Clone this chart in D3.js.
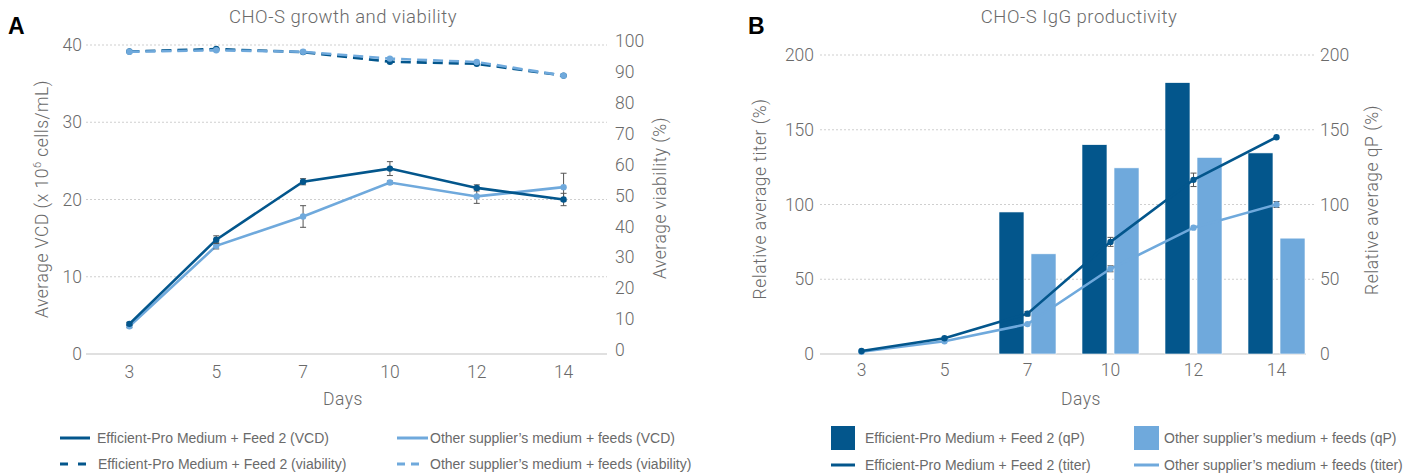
<!DOCTYPE html>
<html><head><meta charset="utf-8">
<script src="https://cdn.jsdelivr.net/npm/d3@7"></script>
<style>
html,body{margin:0;padding:0;background:#fff;}
svg{display:block;}
.t{font-family:Roboto,"Liberation Sans",Arial,sans-serif;font-weight:300;fill:#6a6a6a;}
.ttl{letter-spacing:0.5px;}
.lg{font-family:"Liberation Sans",Arial,sans-serif;font-size:14px;fill:#6a6a6a;}
</style></head>
<body>
<script>
// ---------- DATA ----------
const days = ["3", "5", "7", "10", "12", "14"];
// Panel A
const vcdEfficient = [3.9, 14.8, 22.3, 24.0, 21.5, 20.0];
const vcdEfficientErr = [0.2, 0.5, 0.4, 0.9, 0.4, 0.8];
const vcdOther = [3.6, 14.0, 17.8, 22.2, 20.4, 21.6];
const vcdOtherErr = [0.2, 0.4, 1.4, 0.2, 0.9, 1.8];
const viabEfficient = [96.6, 97.4, 96.4, 93.3, 92.6, 88.8];
const viabOther = [96.5, 97.0, 96.5, 94.3, 93.2, 88.8];
const vcdTicks = [0, 10, 20, 30, 40];
const viabTicks = [0, 10, 20, 30, 40, 50, 60, 70, 80, 90, 100];
// Panel B
const qpEfficient = [null, null, 95, 140, 181.5, 134.5];
const qpOther = [null, null, 67, 124.5, 131.5, 77.5];
const titerEfficient = [2, 10.5, 27, 75, 116.5, 145];
const titerEfficientErr = [0, 0, 1.5, 3, 4.5, 0];
const titerOther = [1.5, 8.5, 20, 57, 84.5, 100];
const titerOtherErr = [0, 0, 0, 2, 0, 2];
const pctTicks = [0, 50, 100, 150, 200];

const DARK = "#03568c", LIGHT = "#6fa9dc";
const GRID = "#cfcfcf", AXIS = "#d6d6d6", ERR = "#555";

const svg = d3.select("body").append("svg").attr("width", 1416).attr("height", 475);

// ---------- PANEL A ----------
const xA = d3.scaleBand().domain(days).range([86, 607]);
const yA = d3.scaleLinear().domain([0, 40]).range([354, 45]);
const yA2 = d3.scaleLinear().domain([0, 100]).range([350, 41]);
const cxA = d => xA(d) + xA.bandwidth() / 2;

const gA = svg.append("g");
gA.append("text").attr("x", 8).attr("y", 34).text("A")
  .style("font-family", "'Liberation Sans',Arial,sans-serif").style("font-weight", "bold").style("font-size", "23px").style("fill", "#000");
gA.append("text").attr("class", "t ttl").attr("x", 343).attr("y", 23).attr("text-anchor", "middle").style("font-size", "18.5px").text("CHO-S growth and viability");

// grid
gA.selectAll(".gridA").data(vcdTicks.filter(v => v > 0)).join("line")
  .attr("x1", 86).attr("x2", 607).attr("y1", d => yA(d)).attr("y2", d => yA(d))
  .attr("stroke", GRID).attr("stroke-dasharray", "2,2").attr("stroke-width", 1);
gA.append("line").attr("x1", 86).attr("x2", 607).attr("y1", yA(0)).attr("y2", yA(0)).attr("stroke", AXIS).attr("stroke-width", 1.5);

// left axis
const axLA = gA.append("g").attr("transform", "translate(86,0)")
  .call(d3.axisLeft(yA).tickValues(vcdTicks).tickSize(0).tickPadding(4));
axLA.select(".domain").remove();
axLA.selectAll("text").attr("class", "t").style("font-size", "17.5px").attr("fill", null);
// right axis
const axRA = gA.append("g").attr("transform", "translate(607,0)")
  .call(d3.axisRight(yA2).tickValues(viabTicks).tickSize(0).tickPadding(8));
axRA.select(".domain").remove();
axRA.selectAll("text").attr("class", "t").style("font-size", "17.5px").attr("fill", null);
// bottom axis
const axBA = gA.append("g").attr("transform", "translate(0,354)")
  .call(d3.axisBottom(xA).tickSize(0).tickPadding(12));
axBA.select(".domain").remove();
axBA.selectAll("text").attr("class", "t").style("font-size", "17.5px").attr("fill", null);

// axis titles
const vcdTitle = gA.append("text").attr("class", "t ttl").attr("transform", "translate(48,199) rotate(-90)")
  .attr("text-anchor", "middle").style("font-size", "17.5px");
vcdTitle.append("tspan").text("Average VCD (x 10");
vcdTitle.append("tspan").attr("dy", -7).style("font-size", "11px").text("6");
vcdTitle.append("tspan").attr("dy", 7).text(" cells/mL)");
gA.append("text").attr("class", "t ttl").attr("transform", "translate(666,198) rotate(-90)")
  .attr("text-anchor", "middle").style("font-size", "17.5px").text("Average viability (%)");
gA.append("text").attr("class", "t ttl").attr("x", 343).attr("y", 405).attr("text-anchor", "middle").style("font-size", "17.5px").text("Days");

function drawSeries(g, xf, yScale, vals, errs, color, dashed, errW) {
  const line = d3.line().x((d, i) => xf(days[i])).y(d => yScale(d));
  g.append("path").datum(vals).attr("d", line).attr("fill", "none").attr("stroke", color)
    .attr("stroke-width", 2.6).attr("stroke-dasharray", dashed ? "10,6" : null);
  if (errs) {
    const e = g.append("g");
    vals.forEach((v, i) => {
      if (!errs[i]) return;
      const x = xf(days[i]), y1 = yScale(v - errs[i]), y2 = yScale(v + errs[i]);
      e.append("line").attr("x1", x).attr("x2", x).attr("y1", y1).attr("y2", y2).attr("stroke", ERR).attr("stroke-width", 1);
      e.append("line").attr("x1", x - errW).attr("x2", x + errW).attr("y1", y1).attr("y2", y1).attr("stroke", ERR).attr("stroke-width", 1);
      e.append("line").attr("x1", x - errW).attr("x2", x + errW).attr("y1", y2).attr("y2", y2).attr("stroke", ERR).attr("stroke-width", 1);
    });
  }
  g.selectAll(null).data(vals).join("circle").attr("cx", (d, i) => xf(days[i])).attr("cy", d => yScale(d))
    .attr("r", 3.2).attr("fill", color);
}

drawSeries(gA, cxA, yA2, viabEfficient, null, DARK, true, 3);
drawSeries(gA, cxA, yA2, viabOther, null, LIGHT, true, 3);
drawSeries(gA, cxA, yA, vcdOther, vcdOtherErr, LIGHT, false, 3);
drawSeries(gA, cxA, yA, vcdEfficient, vcdEfficientErr, DARK, false, 3);

// legend A
const legA = [
  {x: 60, y: 438, c: DARK, dash: null, t: "Efficient-Pro Medium + Feed 2 (VCD)", tx: 97, w: 30},
  {x: 397, y: 438, c: LIGHT, dash: null, t: "Other supplier\u2019s medium + feeds (VCD)", tx: 430, w: 31},
  {x: 60, y: 464, c: DARK, dash: "8,10", t: "Efficient-Pro Medium + Feed 2 (viability)", tx: 98, w: 27},
  {x: 397, y: 464, c: LIGHT, dash: "8,6", t: "Other supplier\u2019s medium + feeds (viability)", tx: 430, w: 23}
];
legA.forEach(l => {
  gA.append("line").attr("x1", l.x).attr("x2", l.x + l.w).attr("y1", l.y).attr("y2", l.y)
    .attr("stroke", l.c).attr("stroke-width", 3).attr("stroke-dasharray", l.dash);
  gA.append("text").attr("class", "lg").attr("x", l.tx).attr("y", l.y + 5).text(l.t);
});

// ---------- PANEL B ----------
const xB = d3.scaleBand().domain(days).range([820, 1318]);
const yB = d3.scaleLinear().domain([0, 200]).range([354, 55]);
const yB2 = d3.scaleLinear().domain([0, 200]).range([354, 55]);
const cxB = d => xB(d) + xB.bandwidth() / 2;
const sub = d3.scaleBand().domain(["eff", "oth"]).range([-28.5, 28.5]).paddingInner(0.22);

const gB = svg.append("g");
gB.append("text").attr("x", 748).attr("y", 34).text("B")
  .style("font-family", "'Liberation Sans',Arial,sans-serif").style("font-weight", "bold").style("font-size", "23px").style("fill", "#000");
gB.append("text").attr("class", "t ttl").attr("x", 1079).attr("y", 23).attr("text-anchor", "middle").style("font-size", "18.5px").text("CHO-S IgG productivity");

gB.selectAll(".gridB").data(pctTicks.filter(v => v > 0)).join("line")
  .attr("x1", 820).attr("x2", 1315).attr("y1", d => yB(d)).attr("y2", d => yB(d))
  .attr("stroke", GRID).attr("stroke-dasharray", "2,2").attr("stroke-width", 1);
gB.append("line").attr("x1", 820).attr("x2", 1306).attr("y1", yB(0)).attr("y2", yB(0)).attr("stroke", AXIS).attr("stroke-width", 1.5);

const axLB = gB.append("g").attr("transform", "translate(820,0)")
  .call(d3.axisLeft(yB).tickValues(pctTicks).tickSize(0).tickPadding(6));
axLB.select(".domain").remove();
axLB.selectAll("text").attr("class", "t").style("font-size", "17.5px").attr("fill", null);
const axRB = gB.append("g").attr("transform", "translate(1318,0)")
  .call(d3.axisRight(yB2).tickValues(pctTicks).tickSize(0).tickPadding(2));
axRB.select(".domain").remove();
axRB.selectAll("text").attr("class", "t").style("font-size", "17.5px").attr("fill", null);
const axBB = gB.append("g").attr("transform", "translate(0,354)")
  .call(d3.axisBottom(xB).tickSize(0).tickPadding(10));
axBB.select(".domain").remove();
axBB.selectAll("text").attr("class", "t").style("font-size", "17.5px").attr("fill", null);

gB.append("text").attr("class", "t ttl").attr("transform", "translate(766,199) rotate(-90)")
  .attr("text-anchor", "middle").style("font-size", "17.5px").text("Relative average titer (%)");
gB.append("text").attr("class", "t ttl").attr("transform", "translate(1378,200) rotate(-90)")
  .attr("text-anchor", "middle").style("font-size", "17.5px").text("Relative average qP (%)");
gB.append("text").attr("class", "t ttl").attr("x", 1081).attr("y", 405).attr("text-anchor", "middle").style("font-size", "17.5px").text("Days");

// bars
[[qpEfficient, "eff", DARK], [qpOther, "oth", LIGHT]].forEach(([vals, key, col]) => {
  gB.selectAll(null).data(vals.map((v, i) => ({v, d: days[i]})).filter(o => o.v != null)).join("rect")
    .attr("x", o => cxB(o.d) + sub(key)).attr("width", sub.bandwidth())
    .attr("y", o => yB2(o.v)).attr("height", o => yB2(0) - yB2(o.v))
    .attr("fill", col).attr("stroke", "#fff").attr("stroke-width", 0.6);
});

drawSeries(gB, cxB, yB, titerOther, titerOtherErr, LIGHT, false, 3);
drawSeries(gB, cxB, yB, titerEfficient, titerEfficientErr, DARK, false, 3);

// legend B
gB.append("rect").attr("x", 831).attr("y", 426).attr("width", 24).attr("height", 24).attr("fill", DARK);
gB.append("text").attr("class", "lg").attr("x", 865).attr("y", 443).text("Efficient-Pro Medium + Feed 2 (qP)");
gB.append("rect").attr("x", 1134).attr("y", 426).attr("width", 25).attr("height", 24).attr("fill", LIGHT);
gB.append("text").attr("class", "lg").attr("x", 1164).attr("y", 443).text("Other supplier\u2019s medium + feeds (qP)");
gB.append("line").attr("x1", 831).attr("x2", 855).attr("y1", 465).attr("y2", 465).attr("stroke", DARK).attr("stroke-width", 3);
gB.append("text").attr("class", "lg").attr("x", 865).attr("y", 470).text("Efficient-Pro Medium + Feed 2 (titer)");
gB.append("line").attr("x1", 1134).attr("x2", 1159).attr("y1", 465).attr("y2", 465).attr("stroke", LIGHT).attr("stroke-width", 3);
gB.append("text").attr("class", "lg").attr("x", 1164).attr("y", 470).text("Other supplier\u2019s medium + feeds (titer)");
</script>
</body></html>
